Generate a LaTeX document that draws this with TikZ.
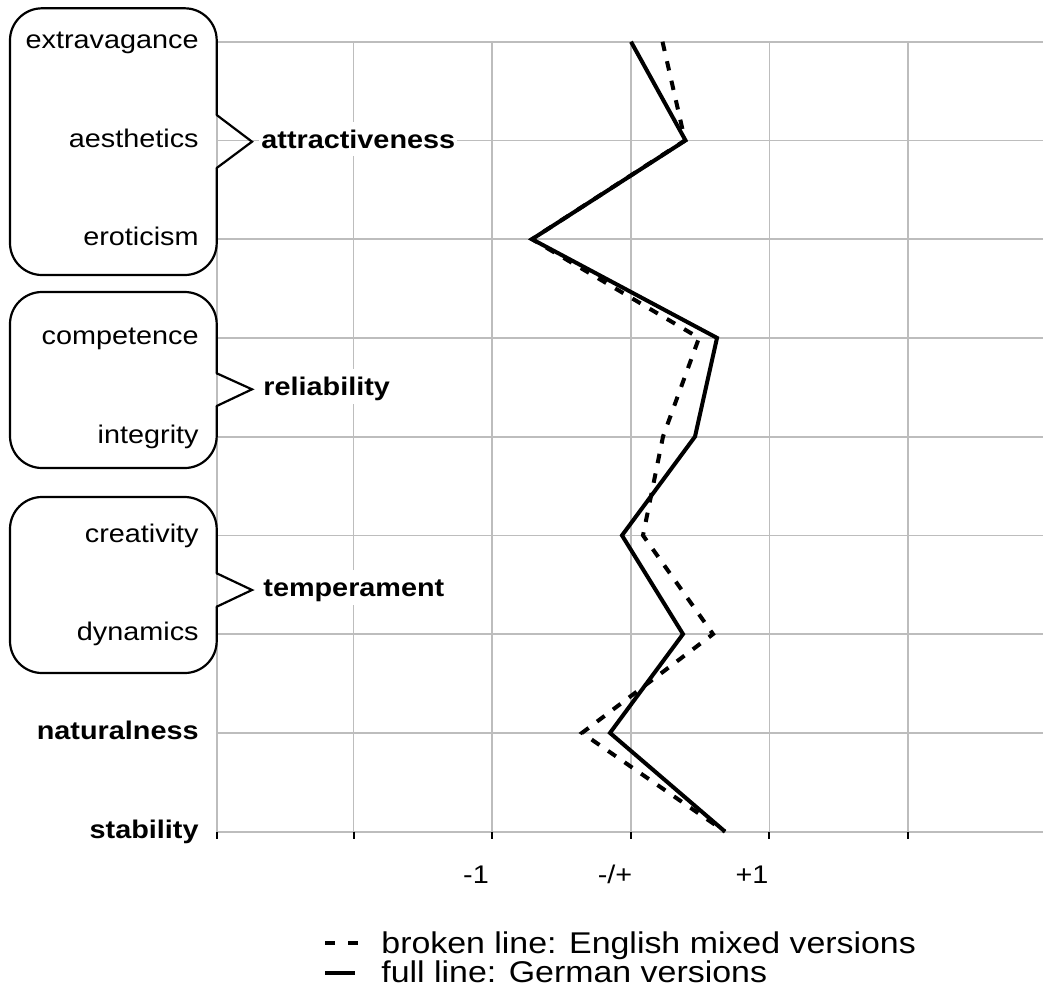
\documentclass[tikz,border=0pt]{standalone}
\usepackage{fontspec}
\setmainfont[FakeStretch=1.13]{Liberation Sans}
\definecolor{gridgray}{HTML}{BDBDBD}
\begin{document}
\begin{tikzpicture}[x=0.5pt,y=-0.5pt,
  gridline/.style={draw=gridgray,line width=0.9pt},
  tickmark/.style={draw=black,line width=1pt},
  groupbox/.style={draw=black,line width=1.1pt,rounded corners=16pt,line cap=round},
  pointer/.style={draw=black,line width=1.1pt,line cap=round,line join=miter},
  labelfont/.style={font=\fontsize{12.75}{15}\selectfont},
  item/.style={labelfont,anchor=base east,inner sep=0pt},
  itembold/.style={item,font=\fontsize{12.75}{15}\selectfont\bfseries},
  grouplabel/.style={font=\fontsize{12.75}{15}\selectfont\bfseries,anchor=base west,
    fill=white,inner xsep=1pt,inner ysep=4pt,text height=9.3pt,text depth=0pt},
  ticklabel/.style={labelfont,anchor=base,inner sep=0pt},
  german/.style={draw=black,line width=2pt,line join=miter},
  english/.style={draw=black,line width=2pt,dash pattern=on 4.75pt off 5.25pt},
  legendfont/.style={font=\fontsize{15}{18}\selectfont,anchor=base west,inner sep=0pt}]

\useasboundingbox (0,0) rectangle (1043,1001);

% rows (one per item) and columns of the scale
\foreach \r/\yy in {0/41.7,1/140.4,2/239.2,3/337.9,4/436.6,5/535.4,6/634.1,7/732.9,8/831.6}
  \draw[gridline] (216.7,\yy) -- (1043,\yy);
\foreach \xx in {216.7,353.5,492,630.8,769.4,908}{
  \draw[gridline] (\xx,41.7) -- (\xx,831.6);
  \draw[tickmark] (\xx,831.6) -- (\xx,838.5);
}

% scale labels
\node[ticklabel] (tminus) at (476,883) {-1};
\node[ticklabel] (tzero)  at (615,883) {-/+};
\node[ticklabel] (tplus)  at (752,883) {+1};

% group outlines with pointers
\draw[groupbox] (216.7,168) -- (216.7,275) -- (10,275) -- (10,8.3) -- (216.7,8.3) -- (216.7,115);
\draw[pointer] (216.7,115) -- (252,141.7) -- (216.7,168);
\draw[groupbox] (216.7,406) -- (216.7,468) -- (10,468) -- (10,292) -- (216.7,292) -- (216.7,373.3);
\draw[pointer] (216.7,373.3) -- (252,389.3) -- (216.7,406);
\draw[groupbox] (216.7,606.7) -- (216.7,673) -- (10,673) -- (10,497) -- (216.7,497) -- (216.7,573.3);
\draw[pointer] (216.7,573.3) -- (252,590) -- (216.7,606.7);

% item labels
\node[item] (extravagance) at (199,48.3)  {extravagance};
\node[item] (aesthetics)   at (199,147)   {aesthetics};
\node[item] (eroticism)    at (199,245.8) {eroticism};
\node[item] (competence)   at (199,344.5) {competence};
\node[item] (integrity)    at (199,443.2) {integrity};
\node[item] (creativity)   at (199,542)   {creativity};
\node[item] (dynamics)     at (199,640.7) {dynamics};
\node[itembold] (naturalness) at (199,739.5) {naturalness};
\node[itembold] (stability)   at (199,838.2) {stability};

% group labels
\node[grouplabel] (attractiveness) at (259,148.3) {attractiveness};
\node[grouplabel] (reliability)    at (261,395.9) {reliability};
\node[grouplabel] (temperament)    at (261,596.6) {temperament};

% profile points
\foreach \n/\g/\e/\yy in {0/631/662.5/41.7,1/685.5/685/140.4,2/532/532/239.2,
  3/717/699/337.9,4/695/663/436.6,5/622/643/535.4,6/683/713/634.1,
  7/610/582/732.9,8/725/725/831.6}{
  \coordinate (g\n) at (\g,\yy);
  \coordinate (e\n) at (\e,\yy);
}

% English mixed versions (broken line)
\draw[english] (e0) -- (e1) -- (e2) -- (e3) -- (e4) -- (e5) -- (e6) -- (e7) -- (e8);
% German versions (full line)
\draw[german] (g0) -- (g1) -- (g2) -- (g3) -- (g4) -- (g5) -- (g6) -- (g7) -- (g8);

% legend
\coordinate (ldA) at (325,943);
\coordinate (ldB) at (358,943);
\coordinate (lsA) at (325,973);
\coordinate (lsB) at (355,973);
\draw[draw=black,line width=2.3pt,dash pattern=on 5pt off 6.5pt] (ldA) -- (ldB);
\draw[draw=black,line width=2.3pt] (lsA) -- (lsB);
\node[legendfont] (legbroken) at (381,953) {broken line: English mixed versions};
\node[legendfont] (legfull)   at (381,982) {full line: German versions};
\end{tikzpicture}
\end{document}
